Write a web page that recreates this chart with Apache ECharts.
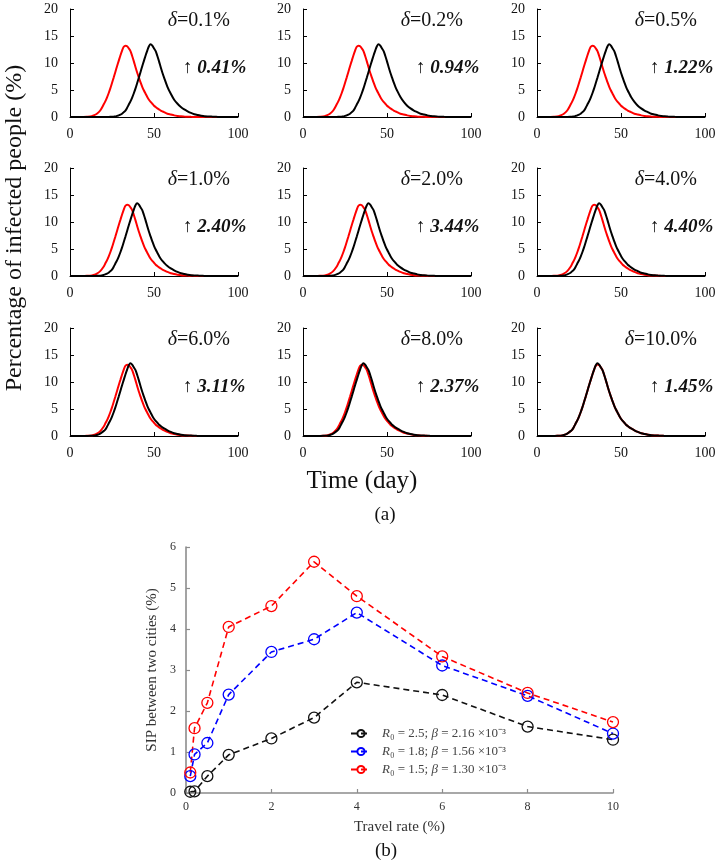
<!DOCTYPE html>
<html><head><meta charset="utf-8">
<script src="https://cdn.jsdelivr.net/npm/echarts@6/dist/echarts.min.js"></script>
<style>html,body{margin:0;padding:0;background:#fff}#c{width:719px;height:865px}</style>
</head><body><div id="c"></div>
<script>
// ---------- panel (a) data: percentage of infected people vs day ----------
// sample days: every 2 days, every day between 21 and 56 (around the peaks)
const DAYS = [0,2,4,6,8,10,12,14,16,18,20,
  21,22,23,24,25,26,27,28,29,30,31,32,33,34,35,36,37,38,39,40,41,42,43,44,45,46,47,48,49,50,51,52,53,54,55,56,
  58,60,62,64,66,68,70,72,74,76,78,80,82,84,86,88,90,92,94,96,98,100];

const red33 = [0,0,0,0.01,0.02,0.05,0.1,0.3,0.6,1.2,2.3,
  2.9,3.6,4.4,5.3,6.3,7.3,8.35,9.4,10.4,11.4,12.3,13.0,13.2,13.1,12.7,12.2,11.3,10.3,9.2,8.2,7.3,6.4,5.6,4.9,4.3,3.7,3.2,2.8,2.45,2.1,1.85,1.6,1.4,1.2,1.05,0.9,
  0.6,0.45,0.3,0.2,0.12,0.08,0.05,0.03,0.015,0.01,0,0,0,0,0,0,0,0,0,0,0,0];
const red34 = [0,0,0,0,0.015,0.03,0.07,0.2,0.45,0.9,1.7,
  2.3,2.9,3.6,4.4,5.3,6.3,7.3,8.35,9.4,10.4,11.4,12.3,13.0,13.2,13.1,12.7,12.2,11.3,10.3,9.2,8.2,7.3,6.4,5.6,4.9,4.3,3.7,3.2,2.8,2.45,2.1,1.85,1.6,1.4,1.2,1.05,
  0.75,0.52,0.37,0.25,0.15,0.1,0.07,0.04,0.02,0.01,0,0,0,0,0,0,0,0,0,0,0,0];
const red35 = [0,0,0,0,0.01,0.02,0.05,0.1,0.3,0.6,1.2,
  1.7,2.3,2.9,3.6,4.4,5.3,6.3,7.3,8.35,9.4,10.4,11.4,12.3,13.0,13.2,13.1,12.7,12.2,11.3,10.3,9.2,8.2,7.3,6.4,5.6,4.9,4.3,3.7,3.2,2.8,2.45,2.1,1.85,1.6,1.4,1.2,
  0.9,0.6,0.45,0.3,0.2,0.12,0.08,0.05,0.03,0.015,0.01,0,0,0,0,0,0,0,0,0,0,0];
const red36 = [0,0,0,0,0,0.015,0.03,0.07,0.2,0.45,0.9,
  1.2,1.7,2.3,2.9,3.6,4.4,5.3,6.3,7.3,8.35,9.4,10.4,11.4,12.3,13.0,13.25,13.1,12.7,12.2,11.3,10.3,9.2,8.2,7.3,6.4,5.6,4.9,4.3,3.7,3.2,2.8,2.45,2.1,1.85,1.6,1.4,
  1.05,0.75,0.52,0.37,0.25,0.15,0.1,0.07,0.04,0.02,0.01,0,0,0,0,0,0,0,0,0,0,0];

const black48 = [0,0,0,0,0,0,0,0,0,0,0,
  0.01,0.015,0.02,0.03,0.05,0.07,0.1,0.2,0.3,0.45,0.6,0.9,1.2,1.7,2.3,2.9,3.6,4.4,5.3,6.3,7.3,8.35,9.4,10.4,11.4,12.3,13.1,13.45,13.2,12.7,12.2,11.3,10.3,9.2,8.2,7.3,
  5.6,4.3,3.2,2.45,1.85,1.4,1.05,0.75,0.52,0.37,0.25,0.15,0.1,0.07,0.04,0.02,0.01,0,0,0,0,0];
const black45 = [0,0,0,0,0,0,0,0,0,0.01,0.02,
  0.03,0.05,0.07,0.1,0.2,0.3,0.45,0.6,0.9,1.2,1.7,2.3,2.9,3.6,4.4,5.3,6.3,7.3,8.35,9.4,10.4,11.4,12.3,13.1,13.45,13.2,12.7,12.2,11.3,10.3,9.2,8.2,7.3,6.4,5.6,4.9,
  3.7,2.8,2.1,1.6,1.2,0.9,0.6,0.45,0.3,0.2,0.12,0.08,0.05,0.03,0.015,0.01,0,0,0,0,0,0];
const black43 = [0,0,0,0,0,0,0,0,0.01,0.02,0.05,
  0.07,0.1,0.2,0.3,0.45,0.6,0.9,1.2,1.7,2.3,2.9,3.6,4.4,5.3,6.3,7.3,8.35,9.4,10.4,11.4,12.3,13.1,13.45,13.2,12.7,12.2,11.3,10.3,9.2,8.2,7.3,6.4,5.6,4.9,4.3,3.7,
  2.8,2.1,1.6,1.2,0.9,0.6,0.45,0.3,0.2,0.12,0.08,0.05,0.03,0.015,0.01,0,0,0,0,0,0,0];
const black40 = [0,0,0,0,0,0,0,0.015,0.03,0.07,0.2,
  0.3,0.45,0.6,0.9,1.2,1.7,2.3,2.9,3.6,4.4,5.3,6.3,7.3,8.35,9.4,10.4,11.4,12.3,13.1,13.45,13.2,12.7,12.2,11.3,10.3,9.2,8.2,7.3,6.4,5.6,4.9,4.3,3.7,3.2,2.8,2.45,
  1.85,1.4,1.05,0.75,0.52,0.37,0.25,0.15,0.1,0.07,0.04,0.02,0.01,0,0,0,0,0,0,0,0,0];
const black39 = [0,0,0,0,0,0,0.01,0.02,0.05,0.1,0.3,
  0.45,0.6,0.9,1.2,1.7,2.3,2.9,3.6,4.4,5.3,6.3,7.3,8.35,9.4,10.4,11.4,12.3,13.1,13.45,13.2,12.7,12.2,11.3,10.3,9.2,8.2,7.3,6.4,5.6,4.9,4.3,3.7,3.2,2.8,2.45,2.1,
  1.6,1.2,0.9,0.6,0.45,0.3,0.2,0.12,0.08,0.05,0.03,0.015,0.01,0,0,0,0,0,0,0,0,0];
const black37 = [0,0,0,0,0,0.01,0.02,0.05,0.1,0.3,0.6,
  0.9,1.2,1.7,2.3,2.9,3.6,4.4,5.3,6.3,7.3,8.35,9.4,10.4,11.4,12.3,13.1,13.45,13.2,12.7,12.2,11.3,10.3,9.2,8.2,7.3,6.4,5.6,4.9,4.3,3.7,3.2,2.8,2.45,2.1,1.85,1.6,
  1.2,0.9,0.6,0.45,0.3,0.2,0.12,0.08,0.05,0.03,0.015,0.01,0,0,0,0,0,0,0,0,0,0];
const black36 = [0,0,0,0,0,0.015,0.03,0.07,0.2,0.45,0.9,
  1.2,1.7,2.3,2.9,3.6,4.4,5.3,6.3,7.3,8.35,9.4,10.4,11.4,12.3,13.1,13.45,13.2,12.7,12.2,11.3,10.3,9.2,8.2,7.3,6.4,5.6,4.9,4.3,3.7,3.2,2.8,2.45,2.1,1.85,1.6,1.4,
  1.05,0.75,0.52,0.37,0.25,0.15,0.1,0.07,0.04,0.02,0.01,0,0,0,0,0,0,0,0,0,0,0];

const PANEL_DELTA = ['0.1%','0.2%','0.5%','1.0%','2.0%','4.0%','6.0%','8.0%','10.0%'];
const PANEL_SIP = ['0.41%','0.94%','1.22%','2.40%','3.44%','4.40%','3.11%','2.37%','1.45%'];
const PANEL_RED = [red33, red33, red33, red34, red34, red34, red34, red35, red36];
const PANEL_BLACK = [black48, black45, black43, black40, black39, black37, black36, black36, black36];

const X_TICKS_A = [0, 50, 100];
const Y_TICKS_A = [0, 5, 10, 15, 20];

// ---------- panel (b) data: SIP vs travel rate ----------
const TRAVEL = [0.1, 0.2, 0.5, 1, 2, 3, 4, 6, 8, 10];
const SIP_R25 = [0.03, 0.04, 0.41, 0.93, 1.33, 1.84, 2.70, 2.39, 1.62, 1.30];
const SIP_R18 = [0.41, 0.94, 1.22, 2.40, 3.44, 3.75, 4.40, 3.11, 2.37, 1.45];
const SIP_R15 = [0.50, 1.58, 2.20, 4.05, 4.56, 5.64, 4.80, 3.33, 2.44, 1.73];
const LEGEND_B = ['{i|R}₀ = 2.5; {i|β} = 2.16 ×10⁻³', '{i|R}₀ = 1.8; {i|β} = 1.56 ×10⁻³', '{i|R}₀ = 1.5; {i|β} = 1.30 ×10⁻³'];

// ---------- build ----------
const SERIF = "'Liberation Serif','Times New Roman',serif";
const COL_LEFT = [70, 303, 537], ROW_TOP = [9, 168, 328], PW = 168, PH = 108;

const grid = [], xAxis = [], yAxis = [], series = [], graphic = [];

for (let i = 0; i < 9; i++) {
  const r = Math.floor(i / 3), c = i % 3;
  const L = COL_LEFT[c], T = ROW_TOP[r];
  grid.push({left: L, top: T, width: PW, height: PH});
  xAxis.push({
    gridIndex: i, type: 'value', min: X_TICKS_A[0], max: X_TICKS_A[2], interval: 50,
    axisLine: {show: true, onZero: false, lineStyle: {color: '#000', width: 1}},
    axisTick: {show: true, inside: true, length: 4, lineStyle: {color: '#000'}},
    axisLabel: {fontFamily: SERIF, fontSize: 14, color: '#111', margin: 10},
    splitLine: {show: false}
  });
  yAxis.push({
    gridIndex: i, type: 'value', min: Y_TICKS_A[0], max: Y_TICKS_A[4], interval: 5,
    axisLine: {show: true, onZero: false, lineStyle: {color: '#000', width: 1}},
    axisTick: {show: true, inside: true, length: 4, lineStyle: {color: '#000'}},
    axisLabel: {fontFamily: SERIF, fontSize: 14, color: '#111', margin: 12},
    splitLine: {show: false}
  });
  series.push({
    type: 'line', xAxisIndex: i, yAxisIndex: i, symbol: 'none', smooth: 0.3, silent: true,
    lineStyle: {color: '#ff0000', width: 2},
    data: DAYS.map((d, j) => [d, PANEL_RED[i][j]])
  });
  series.push({
    type: 'line', xAxisIndex: i, yAxisIndex: i, symbol: 'none', smooth: 0.3, silent: true,
    lineStyle: {color: '#000000', width: 2},
    data: DAYS.map((d, j) => [d, PANEL_BLACK[i][j]])
  });
  graphic.push({
    type: 'text', x: L + 160, y: T + 12, silent: true,
    style: {
      text: '{i|δ}=' + PANEL_DELTA[i], fontFamily: SERIF, fontSize: 20, fill: '#111',
      align: 'right', textAlign: 'right', verticalAlign: 'middle', textVerticalAlign: 'middle',
      rich: {i: {fontStyle: 'italic', fontFamily: SERIF, fontSize: 20, fill: '#111'}}
    }
  });
  graphic.push({
    type: 'text', x: L + 113, y: T + 59, silent: true,
    style: {
      text: '{a|↑} {b|' + PANEL_SIP[i] + '}', fontFamily: SERIF, fontSize: 19, fill: '#111',
      align: 'left', textAlign: 'left', verticalAlign: 'middle', textVerticalAlign: 'middle',
      rich: {
        a: {fontFamily: SERIF, fontSize: 19, fill: '#111'},
        b: {fontFamily: SERIF, fontSize: 19, fontStyle: 'italic', fontWeight: 'bold', fill: '#111'}
      }
    }
  });
}

// axis titles for (a)
graphic.push({
  type: 'text', x: 15, y: 228, rotation: Math.PI / 2, silent: true,
  style: {text: 'Percentage of infected people (%)', fontFamily: SERIF, fontSize: 24, fill: '#111',
    align: 'center', textAlign: 'center', verticalAlign: 'middle', textVerticalAlign: 'middle'}
});
graphic.push({
  type: 'text', x: 362, y: 481, silent: true,
  style: {text: 'Time (day)', fontFamily: SERIF, fontSize: 25, fill: '#111',
    align: 'center', textAlign: 'center', verticalAlign: 'middle', textVerticalAlign: 'middle'}
});
graphic.push({
  type: 'text', x: 385, y: 515, silent: true,
  style: {text: '(a)', fontFamily: SERIF, fontSize: 19, fill: '#111',
    align: 'center', textAlign: 'center', verticalAlign: 'middle', textVerticalAlign: 'middle'}
});
graphic.push({
  type: 'text', x: 386, y: 851, silent: true,
  style: {text: '(b)', fontFamily: SERIF, fontSize: 19, fill: '#111',
    align: 'center', textAlign: 'center', verticalAlign: 'middle', textVerticalAlign: 'middle'}
});

// panel (b)
grid.push({left: 186, top: 547, width: 427, height: 246});
const GRAY = '#8c8c8c';
xAxis.push({
  gridIndex: 9, type: 'value', min: 0, max: 10, interval: 2,
  name: 'Travel rate (%)', nameLocation: 'middle', nameGap: 27,
  nameTextStyle: {fontFamily: SERIF, fontSize: 15, color: '#333'},
  axisLine: {show: true, onZero: false, lineStyle: {color: GRAY, width: 1.6}},
  axisTick: {show: true, inside: true, length: 4, lineStyle: {color: GRAY, width: 1.2}},
  axisLabel: {fontFamily: SERIF, fontSize: 12, color: '#333', margin: 8},
  splitLine: {show: false}
});
yAxis.push({
  gridIndex: 9, type: 'value', min: 0, max: 6, interval: 1,
  name: 'SIP between two cities (%)', nameLocation: 'middle', nameGap: 26,
  nameTextStyle: {fontFamily: SERIF, fontSize: 15, color: '#333'},
  axisLine: {show: true, onZero: false, lineStyle: {color: GRAY, width: 1.6}},
  axisTick: {show: true, inside: true, length: 4, lineStyle: {color: GRAY, width: 1.2}},
  axisLabel: {fontFamily: SERIF, fontSize: 12, color: '#333', margin: 10},
  splitLine: {show: false}
});
const B_SERIES = [['R25', SIP_R25, '#111111'], ['R18', SIP_R18, '#0000ff'], ['R15', SIP_R15, '#ff0000']];
B_SERIES.forEach(([name, vals, col]) => {
  series.push({
    name, type: 'line', xAxisIndex: 9, yAxisIndex: 9, silent: true,
    symbol: 'circle', symbolSize: 11,
    itemStyle: {color: 'rgba(255,255,255,0)', borderColor: col, borderWidth: 1.3},
    lineStyle: {color: col, width: 1.6, type: [6, 4]},
    data: TRAVEL.map((t, j) => [t, vals[j]])
  });
});

const option = {
  animation: false,
  backgroundColor: '#fff',
  grid, xAxis, yAxis, series, graphic,
  legend: {
    data: ['R25', 'R18', 'R15'], orient: 'vertical', left: 345, top: 722,
    itemWidth: 20, itemHeight: 9, itemGap: 5, selectedMode: false,
    formatter: n => LEGEND_B[['R25', 'R18', 'R15'].indexOf(n)],
    textStyle: {fontFamily: SERIF, fontSize: 13, color: '#444', padding: [0, 0, 0, 6],
      rich: {i: {fontFamily: SERIF, fontSize: 13, fontStyle: 'italic', color: '#444'}}}
  }
};
const chart = echarts.init(document.getElementById('c'));
chart.setOption(option);
</script></body></html>
